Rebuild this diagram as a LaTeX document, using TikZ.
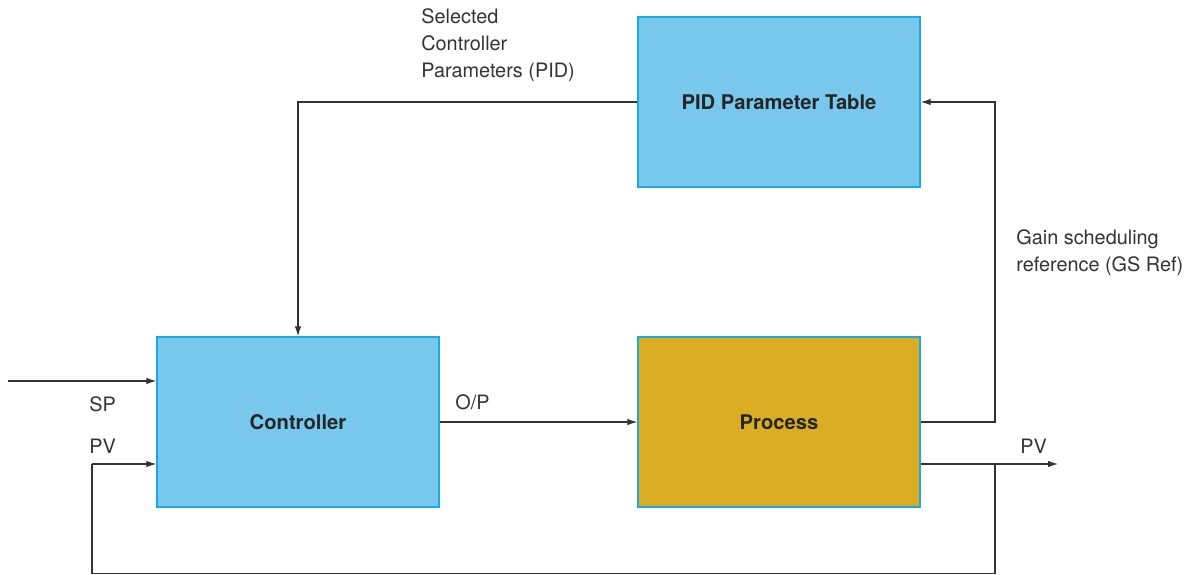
\documentclass[tikz,border=0pt]{standalone}
\usepackage{fontspec}
\setmainfont{TeX Gyre Heros}
\usetikzlibrary{arrows.meta}

\definecolor{blockblue}{HTML}{77C8EC}
\definecolor{blockgold}{HTML}{DAAD25}
\definecolor{blockedge}{HTML}{1BA9E1}
\definecolor{wiregray}{HTML}{333333}

\begin{document}
\begin{tikzpicture}[
    signal/.style={draw=wiregray, line width=0.6pt},
    feed/.style={signal, -{Latex[length=2mm,width=1.3mm]}},
    block/.style={draw=blockedge, fill=blockblue, line width=0.8pt,
        minimum width=5.64cm, minimum height=3.4cm, inner sep=0pt,
        font=\fontsize{11.5}{14}\selectfont\bfseries, text=black!85},
    tag label/.style={font=\fontsize{11.3}{15.4}\selectfont, text=wiregray,
        inner sep=0pt, anchor=west, align=left}
]
    \path[use as bounding box] (0,0) rectangle (23.84,11.5);

    % blocks
    \node[block] (table) at (15.58,9.46) {PID Parameter Table};
    \node[block] (ctrl) at (5.96,3.06) {Controller};
    \node[block, fill=blockgold] (proc) at (15.58,3.06) {Process};

    % free ends of the loop
    \coordinate (sp-in) at (0.16,3.88);
    \coordinate (pv-in) at (1.84,2.22);
    \coordinate (tap) at (19.90,2.22);
    \coordinate (pv-out) at (21.16,2.22);
    \coordinate (gs-turn) at (19.90,3.06);

    % signals
    \draw[feed] (sp-in) -- (ctrl.west |- sp-in);
    \draw[feed] (ctrl.east) -- (proc.west);
    \draw[feed] (proc.east |- pv-out) -- (pv-out);
    \draw[signal] (tap) -- (19.90,0.03) -| (pv-in);
    \draw[feed] (pv-in) -- (ctrl.west |- pv-in);
    \draw[feed] (proc.east) -- (gs-turn) |- (table.east);
    \draw[feed] (table.west) -| (ctrl.north);

    % labels
    \node[tag label] at (1.78,3.42) {SP};
    \node[tag label] at (1.78,2.58) {PV};
    \node[tag label] at (9.10,3.46) {O/P};
    \node[tag label] at (20.40,2.58) {PV};
    \node[tag label] at (20.32,6.45)
        {Gain scheduling\\reference (GS Ref)};
    \node[tag label] at (8.42,10.60)
        {Selected\\Controller\\Parameters (PID)};
\end{tikzpicture}
\end{document}
